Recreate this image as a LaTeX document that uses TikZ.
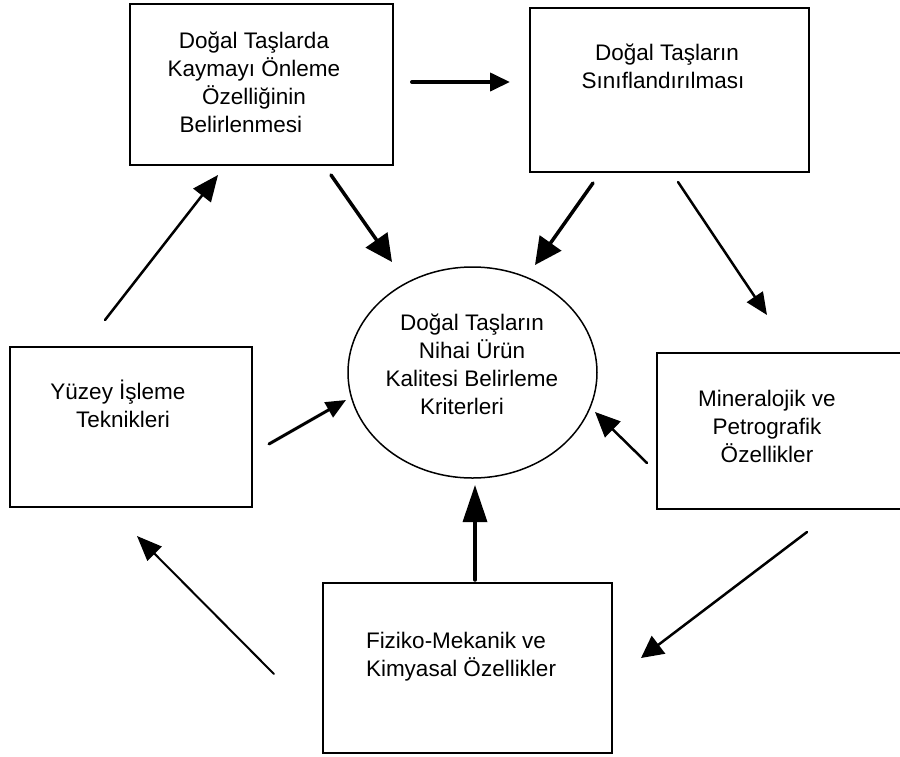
\documentclass[tikz,border=0pt]{standalone}
\usepackage{fontspec}
\setmainfont{Liberation Sans}
\usetikzlibrary{arrows.meta,shapes.geometric}
\tikzset{
  box/.style={draw=black, line width=2pt, rectangle, inner sep=0pt, outer sep=0pt},
  oval/.style={draw=black, line width=1.5pt, ellipse, inner sep=0pt, outer sep=0pt},
  txt/.style={inner sep=0pt, outer sep=0pt, font=\fontsize{22.5}{28}\selectfont, align=center, anchor=north},
  arr/.style n args={3}{draw=black, line width=#1, line cap=round, -{Triangle[length=#2, width=#3]}}
}
\begin{document}
\begin{tikzpicture}[x=1pt, y=-1pt]
\useasboundingbox (0,0) rectangle (900,756);
\clip (0,0) rectangle (900,756);
\fill[white] (0,0) rectangle (900,756);

% boxes
\node[box, minimum width=263pt, minimum height=161pt] (A) at (261.5,84.5) {};
\node[box, minimum width=279pt, minimum height=164pt] (B) at (669.5,90) {};
\node[oval, minimum width=249pt, minimum height=211pt] (E) at (472.5,372.5) {};
\node[box, minimum width=242pt, minimum height=160pt] (L) at (131,427) {};
\node[box, minimum width=248pt, minimum height=156pt] (R) at (781,431) {};
\node[box, minimum width=289pt, minimum height=170pt] (F) at (467.5,668) {};

% texts
\node[txt] (At) at (254,28.9) {\strut Doğal Taşlarda\\Kaymayı Önleme\hspace*{8pt}\\Özelliğinin\hspace*{18pt}\\Belirlenmesi\hspace*{26pt}};
\node[txt] (Bt) at (667,40.4) {\strut Doğal Taşların\\Sınıflandırılması\hspace*{8pt}};
\node[txt] (Et) at (472,311) {\strut Doğal Taşların\\Nihai Ürün\hspace*{18pt}\\Kalitesi Belirleme\\Kriterleri\hspace*{20pt}};
\node[txt] (Lt) at (123,379.4) {\strut Yüzey İşleme\hspace*{10pt}\\Teknikleri};
\node[txt] (Rt) at (767,387) {\strut Mineralojik ve\\Petrografik\\Özellikler};
\node[txt, align=left, anchor=north west] (Ft) at (366,628.4) {\strut Fiziko-Mekanik ve\\Kimyasal Özellikler};

% connectors
\draw[arr={4pt}{20pt}{18pt}] ([shift={(19,-2.5)}]A.east) -- ([shift={(-20,-8)}]B.west);
\draw[arr={3.5pt}{27pt}{26pt}] ([shift={(69.5,10)}]A.south) -- ([shift={(-80.5,-110.5)}]E.center);
\draw[arr={3.5pt}{27pt}{26pt}] ([shift={(-76.5,11)}]B.south) -- ([shift={(62.5,-107.5)}]E.center);
\draw[arr={2.5pt}{22pt}{19pt}] ([shift={(8.5,10)}]B.south) -- ([shift={(-14,-38)}]R.north);
\draw[arr={2.5pt}{26pt}{22pt}] ([shift={(-26,-27)}]L.north) -- ([shift={(-43.5,10)}]A.south);
\draw[arr={3pt}{20pt}{17pt}] ([shift={(17,17)}]L.east) -- ([shift={(-2,27.5)}]E.west);
\draw[arr={2.5pt}{25pt}{22pt}] ([shift={(-10,32)}]R.west) -- ([shift={(-2,39.5)}]E.east);
\draw[arr={3.5pt}{37pt}{24pt}] ([shift={(7.5,-3)}]F.north) -- ([shift={(2.5,7)}]E.south);
\draw[arr={2.5pt}{22pt}{22pt}] ([shift={(26,23)}]R.south) -- ([shift={(29,-10)}]F.east);
\draw[arr={2pt}{25pt}{20pt}] ([shift={(-49,6)}]F.west) -- ([shift={(6,29)}]L.south);
\end{tikzpicture}
\end{document}
